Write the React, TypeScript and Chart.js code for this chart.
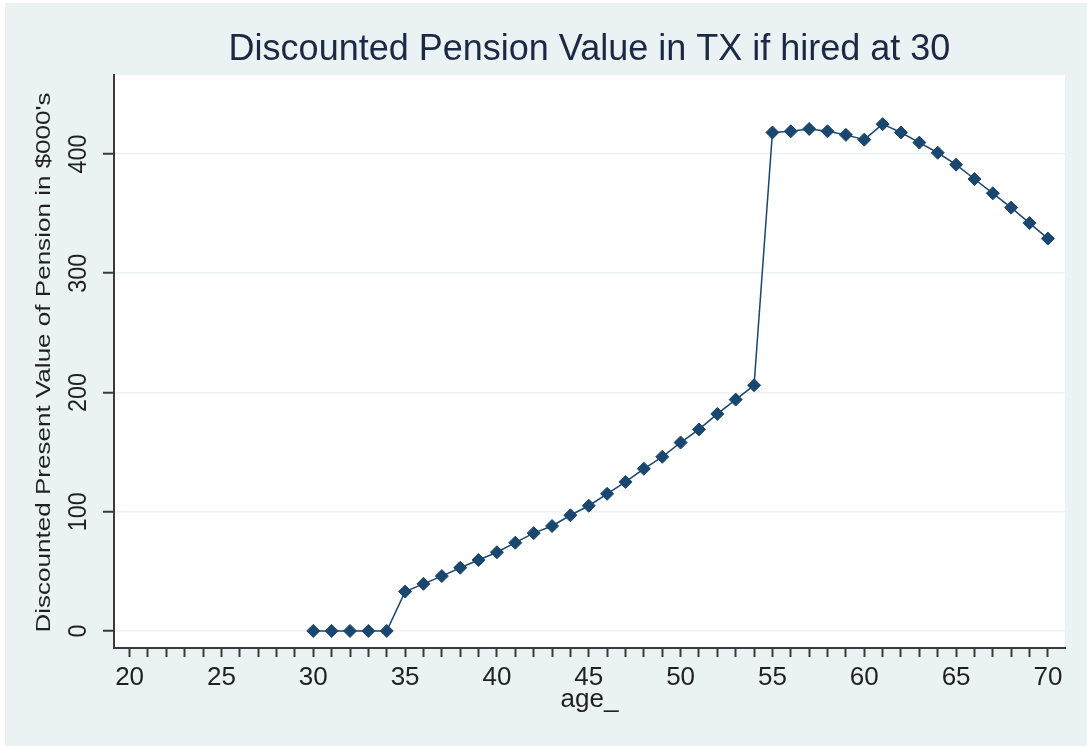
import React, { useEffect, useRef } from "react";
import { Chart, registerables } from "chart.js";

Chart.register(...registerables);

// ---- data ----
const ages = [
  30, 31, 32, 33, 34, 35, 36, 37, 38, 39, 40, 41, 42, 43, 44, 45, 46, 47, 48, 49,
  50, 51, 52, 53, 54, 55, 56, 57, 58, 59, 60, 61, 62, 63, 64, 65, 66, 67, 68, 69, 70,
];
const pensionValues = [
  0, 0, 0, 0, 0,
  33, 39.5, 46, 53, 59.5, 66, 74, 82, 88, 97, 105, 115, 125, 136, 146,
  158, 169, 182, 194, 206,
  418, 419, 421, 419, 416, 412, 425, 418, 409.5, 401, 391, 379, 367, 355, 342, 329,
];
const xTickValues = [
  20, 21, 22, 23, 24, 25, 26, 27, 28, 29, 30, 31, 32, 33, 34, 35, 36, 37, 38, 39,
  40, 41, 42, 43, 44, 45, 46, 47, 48, 49, 50, 51, 52, 53, 54, 55, 56, 57, 58, 59,
  60, 61, 62, 63, 64, 65, 66, 67, 68, 69, 70,
];
const xLabelledTicks = [20, 25, 30, 35, 40, 45, 50, 55, 60, 65, 70];
const yTickValues = [0, 100, 200, 300, 400];

const chartTitle = "Discounted Pension Value in TX if hired at 30";
const yAxisTitle = "Discounted Present Value of Pension in $000's";
const xAxisTitle = "age_";

// ---- styles ----
const FONT = "Arial, 'Liberation Sans', sans-serif";
const BG = "#EAF2F3";
const NAVY = "#1A476F";
const AXIS = "#3a3a3a";
const TEXT = "#1f1f24";
const TITLE = "#1c2945";

const decorPlugin = {
  id: "stataDecor",
  beforeDraw(chart: any) {
    const { ctx, chartArea } = chart;
    ctx.save();
    ctx.fillStyle = "#ffffff";
    ctx.fillRect(
      chartArea.left,
      chartArea.top,
      chartArea.right - chartArea.left,
      chartArea.bottom - chartArea.top
    );
    ctx.restore();
  },
  afterDraw(chart: any) {
    const { ctx, chartArea } = chart;
    const ys = chart.scales.y;
    ctx.save();
    ctx.fillStyle = TEXT;
    ctx.textAlign = "center";
    ctx.textBaseline = "middle";
    ctx.font = `26px ${FONT}`;
    yTickValues.forEach((v) => {
      const py = ys.getPixelForValue(v);
      ctx.save();
      ctx.translate(ys.right - 35, py);
      ctx.rotate(-Math.PI / 2);
      ctx.scale(0.9, 1);
      ctx.fillText(String(v), 0, 0);
      ctx.restore();
    });
    const cy = (chartArea.top + chartArea.bottom) / 2 + 1;
    ctx.translate(45, cy);
    ctx.rotate(-Math.PI / 2);
    ctx.scale(1.24, 1);
    ctx.font = `21px ${FONT}`;
    ctx.textBaseline = "alphabetic";
    ctx.fillText(yAxisTitle, 0, 0);
    ctx.restore();
  },
};

export default function App() {
  const canvasRef = useRef<HTMLCanvasElement | null>(null);

  useEffect(() => {
    document.body.style.margin = "0";
    const canvas = canvasRef.current;
    if (!canvas) return;
    const chart = new Chart(canvas, {
      type: "line",
      data: {
        datasets: [
          {
            data: ages.map((a, i) => ({ x: a, y: pensionValues[i] })),
            borderColor: NAVY,
            backgroundColor: NAVY,
            borderWidth: 1.5,
            pointStyle: "rectRot",
            pointRadius: 6.5,
            pointBorderWidth: 1,
            pointBorderColor: NAVY,
            pointBackgroundColor: NAVY,
            tension: 0,
            fill: false,
          },
        ],
      },
      options: {
        responsive: false,
        animation: false,
        devicePixelRatio: 1,
        layout: { padding: { top: 0, left: 0, right: 22, bottom: 0 } },
        plugins: {
          legend: { display: false },
          tooltip: { enabled: false },
          title: {
            display: true,
            text: chartTitle,
            color: TITLE,
            fullSize: false,
            font: { family: FONT, size: 36, weight: "normal", lineHeight: 1.2 },
            padding: { top: 25, bottom: 3.8 },
          },
        },
        scales: {
          x: {
            type: "linear",
            position: "bottom",
            min: 19.15,
            max: 70.93,
            afterBuildTicks: (scale: any) => {
              scale.ticks = xTickValues.map((v) => ({ value: v }));
            },
            afterFit: (scale: any) => {
              scale.height = 98;
            },
            border: { display: true, color: AXIS, width: 2 },
            grid: {
              drawOnChartArea: false,
              drawTicks: true,
              tickLength: 9,
              tickColor: AXIS,
              tickWidth: 2,
            },
            ticks: {
              autoSkip: false,
              maxRotation: 0,
              minRotation: 0,
              padding: 5,
              color: TEXT,
              font: { family: FONT, size: 26 },
              callback: (value: any) =>
                xLabelledTicks.includes(Number(value)) ? String(value) : "",
            },
            title: {
              display: true,
              text: xAxisTitle,
              color: TEXT,
              font: { family: FONT, size: 26 },
              padding: { top: 0, bottom: 31 },
            },
          },
          y: {
            type: "linear",
            position: "left",
            min: -14.3,
            max: 466.2,
            afterBuildTicks: (scale: any) => {
              scale.ticks = yTickValues.map((v) => ({ value: v }));
            },
            afterFit: (scale: any) => {
              scale.width = 109;
            },
            border: { display: true, color: AXIS, width: 2 },
            grid: {
              drawOnChartArea: true,
              color: BG,
              lineWidth: 1.5,
              drawTicks: true,
              tickLength: 11,
              tickColor: AXIS,
              tickWidth: 2,
            },
            ticks: { display: false },
            title: { display: false },
          },
        },
      },
      plugins: [decorPlugin],
    });
    return () => chart.destroy();
  }, []);

  return (
    <div
      style={{
        position: "relative",
        width: 1087,
        height: 746,
        background: "#ffffff",
        overflow: "hidden",
      }}
    >
      <canvas
        ref={canvasRef}
        width={1082}
        height={743}
        style={{
          position: "absolute",
          left: 5,
          top: 3,
          width: 1082,
          height: 743,
          background: BG,
          display: "block",
        }}
      />
    </div>
  );
}
